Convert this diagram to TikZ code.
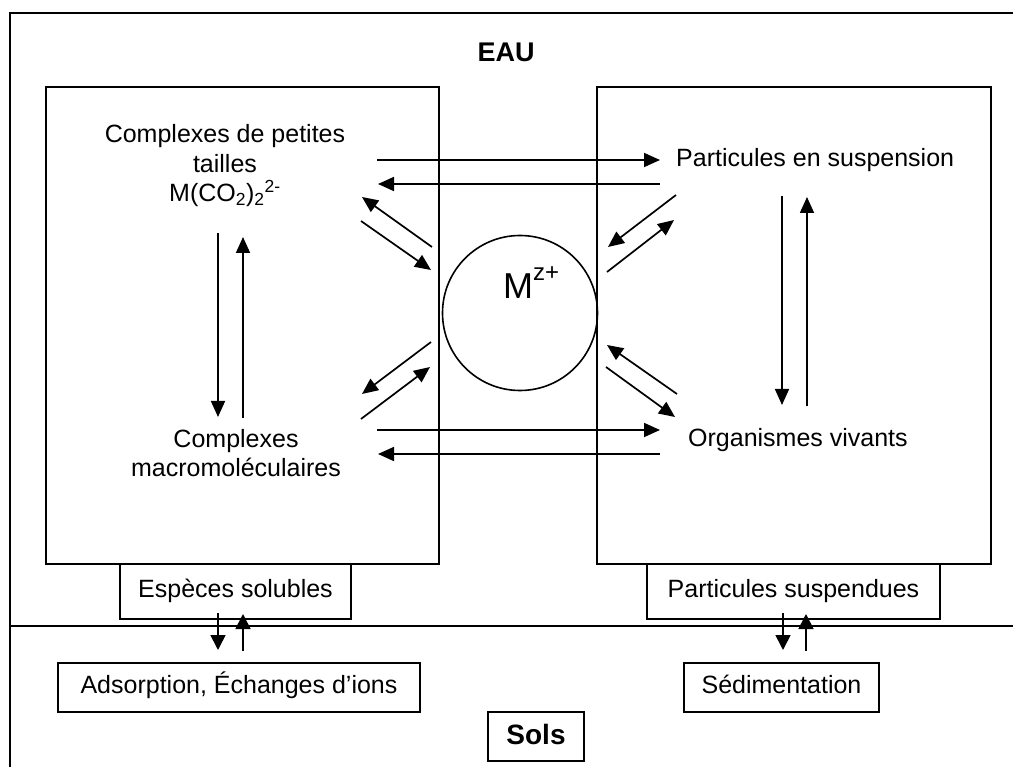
\documentclass[tikz,border=0pt]{standalone}
\usepackage{fontspec}
\setmainfont{Liberation Sans}
\usetikzlibrary{arrows.meta}
\begin{document}
\begin{tikzpicture}[x=1pt,y=-1pt,
  frame/.style={line width=2pt},
  box/.style={draw,line width=1.7pt,inner sep=0pt},
  lbl/.style={font=\fontsize{25}{29.5}\selectfont,inner sep=0pt,align=center},
  boxlbl/.style={box,font=\fontsize{25}{29.5}\selectfont,text height=17pt,text depth=5pt},
  arr/.style={line width=1.7pt,-{Triangle[length=16pt,width=14pt]}},
  sarr/.style={line width=1.7pt,-{Triangle[length=15pt,width=15pt]}}]
\useasboundingbox (0,0) rectangle (1013,767);

% outer frame and water/soil divider
\coordinate (fbl) at (10,767);
\coordinate (ftl) at (10,13);
\coordinate (ftr) at (1013,13);
\coordinate (dl) at (10,626);
\coordinate (dr) at (1013,626);
\draw[frame] (fbl) -- (ftl) -- (ftr);
\draw[frame] (dl) -- (dr);

\node[font=\fontsize{27}{30}\selectfont\bfseries,inner sep=0pt] (eau) at (506,52) {EAU};

% big boxes
\node[box,minimum width=393pt,minimum height=477pt] (lbox) at (242.5,325.5) {};
\node[box,minimum width=394pt,minimum height=477pt] (rbox) at (794,325.5) {};

% central ion
\node[circle,draw,line width=1.6pt,minimum size=155pt,inner sep=0pt] (ion) at (520,313) {};
\node[inner sep=0pt,font=\fontsize{36}{40}\selectfont,anchor=base west] (ionlbl) at (503,299) {M\raisebox{18pt}{\fontsize{24}{26}\selectfont z+}};

% labels
\node[lbl,anchor=base] (small) at (225,202) {Complexes de petites\\ tailles\\ M(CO\textsubscript{2})\textsubscript{2}\textsuperscript{2-}};
\node[lbl,anchor=base] (macro) at (236,477) {Complexes\\ macromoléculaires};
\node[lbl,anchor=base west] (part) at (676,167) {Particules en suspension};
\node[lbl,anchor=base west] (org) at (688,447) {Organismes vivants};

% bottom boxes
\node[boxlbl,minimum width=231pt,minimum height=55pt] (esp) at (235.5,591.5) {Espèces solubles};
\node[boxlbl,minimum width=362pt,minimum height=49pt] (ads) at (239,687.5) {Adsorption, Échanges d’ions};
\node[boxlbl,minimum width=293pt,minimum height=55pt] (psus) at (793.5,591.5) {Particules suspendues};
\node[boxlbl,minimum width=195pt,minimum height=49pt] (sed) at (781.5,687.5) {Sédimentation};
\node[box,font=\fontsize{28}{30}\selectfont\bfseries,text height=19pt,text depth=3pt,minimum width=96pt,minimum height=49pt] (sols) at (536,736.5) {Sols};

% horizontal exchange arrows
\coordinate (h1a) at (377,160); \coordinate (h1b) at (660,160);
\coordinate (h2a) at (660,184); \coordinate (h2b) at (378,184);
\coordinate (h3a) at (377,430); \coordinate (h3b) at (660,430);
\coordinate (h4a) at (660,454); \coordinate (h4b) at (378,454);
\draw[arr] (h1a) -- (h1b);
\draw[arr] (h2a) -- (h2b);
\draw[arr] (h3a) -- (h3b);
\draw[arr] (h4a) -- (h4b);

% vertical arrows inside boxes
\coordinate (v1a) at (218,233); \coordinate (v1b) at (218,417);
\coordinate (v2a) at (243,418); \coordinate (v2b) at (243,237);
\coordinate (v3a) at (782,196); \coordinate (v3b) at (782,405);
\coordinate (v4a) at (807,406); \coordinate (v4b) at (807,197);
\draw[arr] (v1a) -- (v1b);
\draw[arr] (v2a) -- (v2b);
\draw[arr] (v3a) -- (v3b);
\draw[arr] (v4a) -- (v4b);

% diagonal arrows around the ion
\coordinate (d1a) at (432,247); \coordinate (d1b) at (362,197);
\coordinate (d2a) at (361,221); \coordinate (d2b) at (431,270);
\coordinate (d3a) at (431,342); \coordinate (d3b) at (362,394);
\coordinate (d4a) at (361,419); \coordinate (d4b) at (430,367);
\coordinate (d5a) at (676,195); \coordinate (d5b) at (608,247);
\coordinate (d6a) at (607,272); \coordinate (d6b) at (674,220);
\coordinate (d7a) at (677,394); \coordinate (d7b) at (607,345);
\coordinate (d8a) at (606,367); \coordinate (d8b) at (675,417);
\foreach \i in {1,...,8} {\draw[arr] (d\i a) -- (d\i b);}

% arrows to the soil
\coordinate (s1a) at (218,613); \coordinate (s1b) at (218,650);
\coordinate (s2a) at (243,651); \coordinate (s2b) at (243,614);
\coordinate (s3a) at (783,613); \coordinate (s3b) at (783,650);
\coordinate (s4a) at (806,651); \coordinate (s4b) at (806,614);
\draw[sarr] (s1a) -- (s1b);
\draw[sarr] (s2a) -- (s2b);
\draw[sarr] (s3a) -- (s3b);
\draw[sarr] (s4a) -- (s4b);
\end{tikzpicture}
\end{document}
